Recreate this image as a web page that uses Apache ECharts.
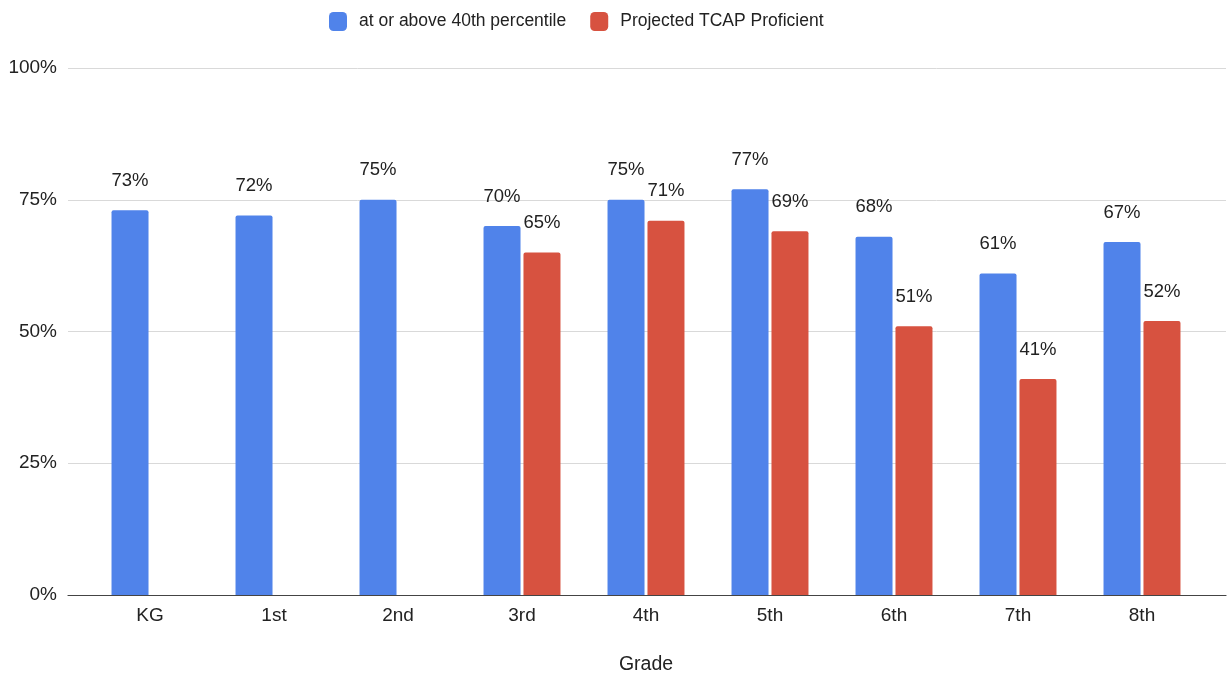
<!DOCTYPE html>
<html>
<head>
<meta charset="utf-8">
<script src="https://cdn.jsdelivr.net/npm/echarts@6/dist/echarts.min.js"></script>
<style>
html,body{margin:0;padding:0;background:#fff;}
#chart{width:1228px;height:677px;}
</style>
</head>
<body>
<div id="chart"></div>
<script>
const categories = ['KG', '1st', '2nd', '3rd', '4th', '5th', '6th', '7th', '8th'];
const percentile40 = [73, 72, 75, 70, 75, 77, 68, 61, 67];
const tcapProficient = [null, null, null, 65, 71, 69, 51, 41, 52];
const yTicks = [0, 25, 50, 75, 100];
const seriesNames = ['at or above 40th percentile', 'Projected TCAP Proficient'];
const axisTitle = 'Grade';

const FONT = "'Liberation Sans', Arial, Helvetica, sans-serif";
const chart = echarts.init(document.getElementById('chart'), null, {renderer: 'canvas'});

const labelCfg = {
  show: true,
  position: 'top',
  distance: 20,
  color: '#222',
  fontSize: 18.5,
  fontFamily: FONT,
  formatter: p => p.value == null ? '' : p.value + '%'
};

chart.setOption({
  animation: false,
  backgroundColor: '#fff',
  legend: {
    left: 324,
    top: 7,
    itemWidth: 18,
    itemHeight: 19,
    itemGap: 24,
    icon: 'roundRect',
    data: seriesNames,
    textStyle: {fontSize: 17.5, color: '#222', fontFamily: FONT, padding: [0, 0, 0, 7]}
  },
  grid: [
    {left: 68, right: 2, top: 68, bottom: 82, outerBoundsMode: 'none'},
    {left: 88, right: 24, top: 68, bottom: 82, outerBoundsMode: 'none'}
  ],
  xAxis: [
    {
      gridIndex: 0, type: 'value', min: 0, max: 1,
      axisLine: {show: true, lineStyle: {color: '#444', width: 1.2}},
      axisTick: {show: false}, axisLabel: {show: false}, splitLine: {show: false}
    },
    {
      gridIndex: 1, type: 'category', data: categories,
      name: axisTitle, nameLocation: 'middle', nameGap: 60,
      nameTextStyle: {fontSize: 19.5, color: '#222', fontFamily: FONT},
      axisLine: {show: false}, axisTick: {show: false},
      axisLabel: {fontSize: 19, color: '#222', fontFamily: FONT, margin: 11}
    }
  ],
  yAxis: [
    {
      gridIndex: 0, type: 'value', min: yTicks[0], max: yTicks[yTicks.length - 1], interval: 25,
      axisLine: {show: false}, axisTick: {show: false},
      axisLabel: {fontSize: 19, color: '#222', fontFamily: FONT, margin: 11, formatter: v => v + '%'},
      splitLine: {show: true, lineStyle: {color: '#d9d9d9', width: 1}}
    },
    {
      gridIndex: 1, type: 'value', min: 0, max: 100, interval: 25, show: false,
      splitLine: {show: false}
    }
  ],
  series: [
    {
      name: seriesNames[0], type: 'bar', xAxisIndex: 1, yAxisIndex: 1,
      data: percentile40, barWidth: 37, barGap: '8%',
      itemStyle: {color: '#5083EA', borderRadius: [2, 2, 0, 0]},
      label: labelCfg
    },
    {
      name: seriesNames[1], type: 'bar', xAxisIndex: 1, yAxisIndex: 1,
      data: tcapProficient, barWidth: 37,
      itemStyle: {color: '#D75240', borderRadius: [2, 2, 0, 0]},
      label: labelCfg
    }
  ]
});
</script>
</body>
</html>
